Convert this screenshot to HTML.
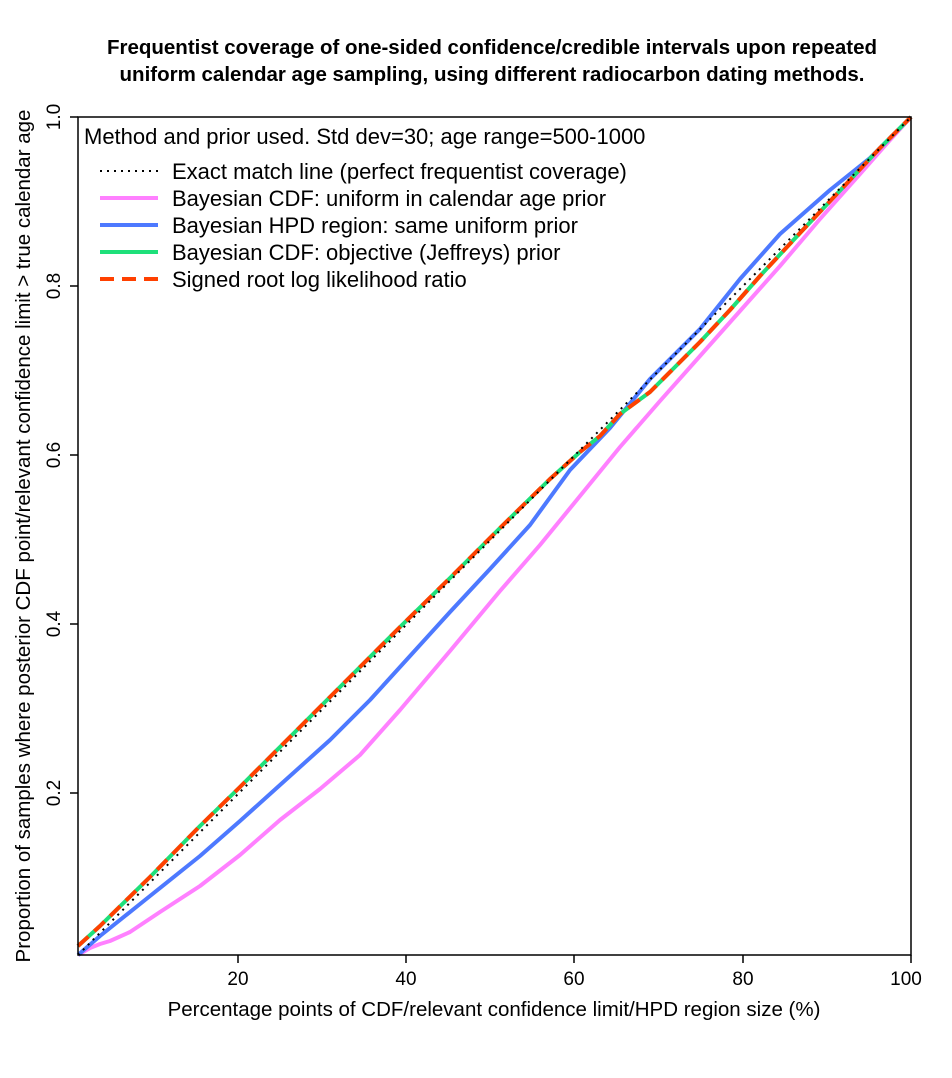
<!DOCTYPE html>
<html><head><style>body{margin:0;background:#fff}</style></head><body>
<svg width="952" height="1073" xmlns="http://www.w3.org/2000/svg" font-family="Liberation Sans, Arial, sans-serif">
<rect width="952" height="1073" fill="#fff"/>
<text x="492" y="54" font-size="20.5" font-weight="bold" text-anchor="middle">Frequentist coverage of one-sided confidence/credible intervals upon repeated</text>
<text x="492" y="81" font-size="20.5" font-weight="bold" text-anchor="middle">uniform calendar age sampling, using different radiocarbon dating methods.</text>
<g fill="none" stroke-width="4" stroke-linejoin="round">
<polyline stroke="#ff80ff" points="78,955 90,948 100,944 110,941 130,932 160,912 200,886 240,855 280,820 320,789 360,755 400,710 450,651 500,591 540,545 580,496 620,447 660,401 700,356 740,311 780,266 820,219 860,174 890,140 911,117"/>
<polyline stroke="#4d79ff" points="78,955 100,936 150,896 200,856 240,821 280,785 330,740 370,700 410,656 450,612 490,569 530,525 570,470 610,428 650,379 700,329 740,279 780,234 830,190 870,158 911,117"/>
<polyline stroke="#1ee07a" points="78,946 100,926 150,877 200,826 240,787 300,727 350,677 400,627 450,578 500,528 550,479 580,452 600,436 620,414 650,392 680,362 700,342 730,310 760,276 800,233 850,180 880,148 911,117"/>
<polyline stroke="#ff4000" stroke-dasharray="14,8" points="78,946 100,926 150,877 200,826 240,787 300,727 350,677 400,627 450,578 500,528 550,479 580,452 600,436 620,414 650,392 680,362 700,342 730,310 760,276 800,233 850,180 880,148 911,117"/>
</g>
<line x1="78" y1="955" x2="911" y2="117" stroke="#000" stroke-width="2" stroke-dasharray="2,5"/>
<rect x="78" y="117" width="833" height="838" fill="none" stroke="#000" stroke-width="1.5"/>
<g stroke="#000" stroke-width="1.5">
<line x1="238" y1="955" x2="238" y2="963"/><line x1="406" y1="955" x2="406" y2="963"/><line x1="574" y1="955" x2="574" y2="963"/><line x1="743" y1="955" x2="743" y2="963"/><line x1="911" y1="955" x2="911" y2="963"/>
<line x1="70" y1="117" x2="78" y2="117"/><line x1="70" y1="286" x2="78" y2="286"/><line x1="70" y1="455" x2="78" y2="455"/><line x1="70" y1="624" x2="78" y2="624"/><line x1="70" y1="793" x2="78" y2="793"/>
</g>
<g font-size="19" text-anchor="middle">
<text x="238" y="985">20</text><text x="406" y="985">40</text><text x="574" y="985">60</text><text x="743" y="985">80</text><text x="906" y="985">100</text>
<text transform="translate(60,117) rotate(-90)">1.0</text>
<text transform="translate(60,286) rotate(-90)">0.8</text>
<text transform="translate(60,455) rotate(-90)">0.6</text>
<text transform="translate(60,624) rotate(-90)">0.4</text>
<text transform="translate(60,793) rotate(-90)">0.2</text>
</g>
<text x="494" y="1016" font-size="20.5" text-anchor="middle">Percentage points of CDF/relevant confidence limit/HPD region size (%)</text>
<text transform="translate(30,536) rotate(-90)" font-size="20.5" text-anchor="middle">Proportion of samples where posterior CDF point/relevant confidence limit &gt; true calendar age</text>
<g font-size="22">
<text x="84" y="144">Method and prior used. Std dev=30; age range=500-1000</text>
<text x="172" y="179">Exact match line (perfect frequentist coverage)</text>
<text x="172" y="206">Bayesian CDF: uniform in calendar age prior</text>
<text x="172" y="233">Bayesian HPD region: same uniform prior</text>
<text x="172" y="260">Bayesian CDF: objective (Jeffreys) prior</text>
<text x="172" y="287">Signed root log likelihood ratio</text>
</g>
<g stroke-width="4">
<line x1="100" y1="171" x2="158" y2="171" stroke="#000" stroke-width="2" stroke-dasharray="2,5"/>
<line x1="100" y1="198" x2="158" y2="198" stroke="#ff80ff"/>
<line x1="100" y1="225" x2="158" y2="225" stroke="#4d79ff"/>
<line x1="100" y1="252" x2="158" y2="252" stroke="#1ee07a"/>
<line x1="100" y1="279" x2="158" y2="279" stroke="#ff4000" stroke-dasharray="14,8"/>
</g>
</svg>
</body></html>
